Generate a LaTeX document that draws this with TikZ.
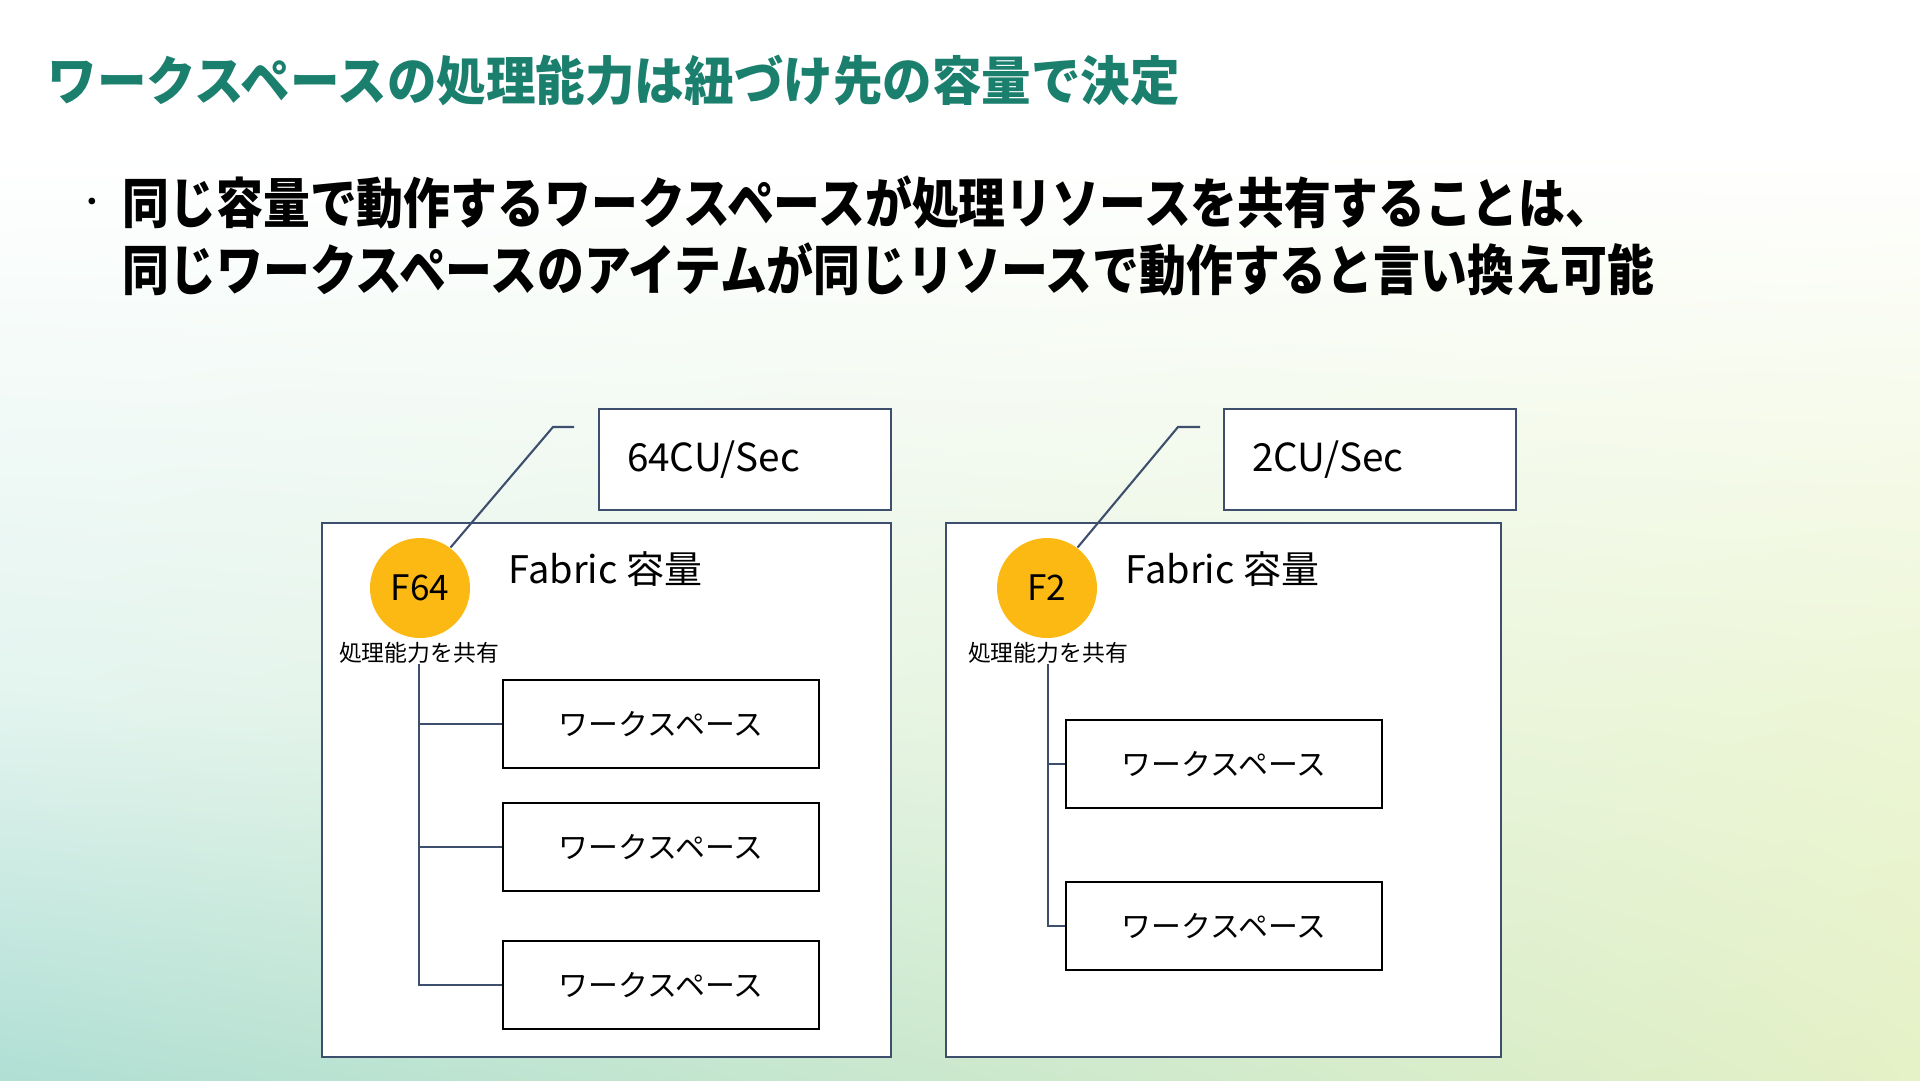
\documentclass[tikz,border=0pt]{standalone}
\usepackage{fontspec}
\setmainfont{Noto Sans CJK JP}
\newfontfamily\narrowjp{Noto Sans CJK JP}[FakeStretch=0.86]
\newfontfamily\headjp{Noto Sans CJK JP}[FakeStretch=0.94]
\usetikzlibrary{shadings}

\definecolor{titleteal}{HTML}{1B7F6E}
\definecolor{slate}{HTML}{3E4F6E}
\definecolor{amber}{HTML}{FDB913}
\definecolor{bgmidl}{HTML}{E3F4EF}
\definecolor{bgmidr}{HTML}{EDF6D6}
\definecolor{bgbotl}{HTML}{B0DFD4}
\definecolor{bgbotr}{HTML}{E5F1C6}

\begin{document}
\begin{tikzpicture}[x=0.1mm, y=-0.1mm,
        panel/.style={draw=slate, line width=0.6pt, fill=white, anchor=north west, inner sep=0pt},
        capbox/.style={draw=slate, line width=0.6pt, fill=white, anchor=north west, minimum width=29.2mm, minimum height=10.1mm,
            text width=23.6mm, inner xsep=2.8mm, align=left, font=\fontsize{11pt}{13pt}\selectfont},
        wsbox/.style={draw=black, line width=0.6pt, fill=white, minimum width=31.6mm, minimum height=8.8mm, font=\fontsize{8.5pt}{10pt}\selectfont},
        cu/.style={circle, fill=amber, minimum size=10mm, inner sep=0pt, font=\fontsize{10pt}{12pt}\selectfont},
        label/.style={anchor=west, inner sep=0pt, font=\fontsize{10.8pt}{12pt}\selectfont},
        share/.style={inner sep=0pt, font=\fontsize{6.5pt}{8pt}\selectfont},
        lead/.style={draw=slate, line width=0.6pt}
    ]
        % background
        \useasboundingbox (0,0) rectangle (1920,1080);
        \fill[white] (0,0) rectangle (1920,150);
        \shade[upper left=white, upper right=white, lower left=bgmidl, lower right=bgmidr] (0,150) rectangle (1920,700);
        \shade[upper left=bgmidl, upper right=bgmidr, lower left=bgbotl, lower right=bgbotr] (0,700) rectangle (1920,1080);

        % heading and bullet
        \node[anchor=west, inner sep=0pt, text=titleteal, font=\headjp\fontsize{15pt}{17pt}\selectfont\bfseries] (title) at (47,80) {ワークスペースの処理能力は紐づけ先の容量で決定};
        \node[inner sep=0pt, font=\fontsize{9pt}{10pt}\selectfont] (dot) at (92,206) {・};
        \node[anchor=west, inner sep=0pt, font=\narrowjp\fontsize{15.5pt}{18pt}\selectfont\bfseries] (lineA) at (122,202) {同じ容量で動作するワークスペースが処理リソースを共有することは、};
        \node[anchor=west, inner sep=0pt, font=\narrowjp\fontsize{15.5pt}{18pt}\selectfont\bfseries] (lineB) at (122,269) {同じワークスペースのアイテムが同じリソースで動作すると言い換え可能};

        % F64 capacity
        \node[panel, minimum width=56.9mm, minimum height=53.4mm] (fabL) at (321,522) {};
        \node[capbox] (capL) at (598,408) {64CU/Sec};
        \node[label] (nameL) at (508,569) {Fabric 容量};
        \node[cu] (cirL) at (420,588) {F64};
        \node[share] (shL) at (419,653) {処理能力を共有};
        \node[wsbox] (wsLa) at (661,724) {ワークスペース};
        \node[wsbox] (wsLb) at (661,847) {ワークスペース};
        \node[wsbox] (wsLc) at (661,985) {ワークスペース};
        \coordinate (kneeL) at (553,427);
        \coordinate (tipL) at (574,427);

        \draw[lead] (cirL.53) -- (kneeL) -- (tipL);
        \draw[lead] (shL.south) -- (shL.south |- wsLc.west) -- (wsLc.west);
        \draw[lead] (shL.south |- wsLa.west) -- (wsLa.west);
        \draw[lead] (shL.south |- wsLb.west) -- (wsLb.west);

        % F2 capacity
        \node[panel, minimum width=55.5mm, minimum height=53.4mm] (fabR) at (945,522) {};
        \node[capbox] (capR) at (1223,408) {2CU/Sec};
        \node[label] (nameR) at (1125,569) {Fabric 容量};
        \node[cu] (cirR) at (1047,588) {F2};
        \node[share] (shR) at (1048,653) {処理能力を共有};
        \node[wsbox] (wsRa) at (1224,764) {ワークスペース};
        \node[wsbox] (wsRb) at (1224,926) {ワークスペース};
        \coordinate (kneeR) at (1178,427);
        \coordinate (tipR) at (1200,427);

        \draw[lead] (cirR.53) -- (kneeR) -- (tipR);
        \draw[lead] (shR.south) -- (shR.south |- wsRb.west) -- (wsRb.west);
        \draw[lead] (shR.south |- wsRa.west) -- (wsRa.west);
    \end{tikzpicture}
\end{document}
